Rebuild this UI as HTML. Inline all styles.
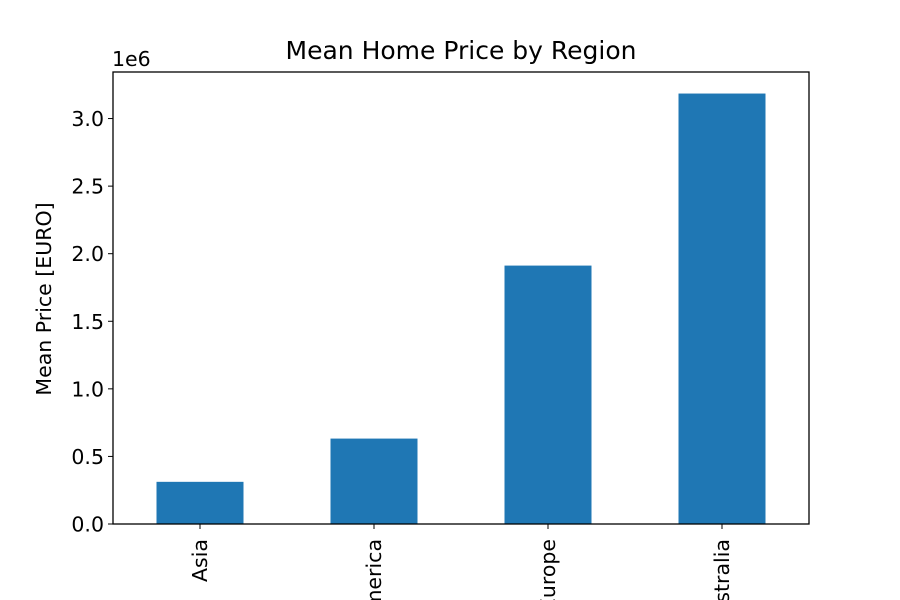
<!DOCTYPE html>
<html><head><meta charset="utf-8"><style>
html,body{margin:0;padding:0;background:#fff;}
svg{display:block;font-family:"DejaVu Sans","Liberation Sans",sans-serif;}
</style></head><body>
<svg id="chart" width="900" height="600" viewBox="0 0 900 600">
<rect width="900" height="600" fill="#fff"/>
<text x="461" y="59" font-size="25" text-anchor="middle" fill="#000">Mean Home Price by Region</text>
<text x="112" y="66" font-size="20.5" fill="#000">1e6</text>
<text transform="translate(51,299) rotate(-90)" font-size="20.5" text-anchor="middle" fill="#000">Mean Price [EURO]</text>
<g id="bars"></g>
<g id="yticks"></g>
<g id="xticks"></g>
<rect x="113" y="72" width="696" height="452" fill="none" stroke="#000" stroke-width="1.3"/>
</svg>
<script>
const categories = ["Asia", "America", "Europe", "Australia"];
const values = [0.312e6, 0.632e6, 1.912e6, 3.185e6];
const yTicks = [0, 0.5e6, 1.0e6, 1.5e6, 2.0e6, 2.5e6, 3.0e6];
const yTickLabels = ["0.0", "0.5", "1.0", "1.5", "2.0", "2.5", "3.0"];

{
const pL = 113, pR = 809, pT = 72, pB = 524;
const yMax = 3.3444e6;
function ys(v){ return pB - v / yMax * (pB - pT); }
const step = (pR - pL) / categories.length;
function xs(i){ return pL + step * (i + 0.5); }
const bw = step * 0.5;
const ns = "http://www.w3.org/2000/svg";
const bars = document.getElementById('bars');
const yt = document.getElementById('yticks');
const xt = document.getElementById('xticks');

categories.forEach((c, i) => {
  const r = document.createElementNS(ns, 'rect');
  r.setAttribute('x', xs(i) - bw / 2);
  r.setAttribute('y', ys(values[i]));
  r.setAttribute('width', bw);
  r.setAttribute('height', pB - ys(values[i]));
  r.setAttribute('fill', '#1f77b4');
  
  
  bars.appendChild(r);

  const t = document.createElementNS(ns, 'line');
  t.setAttribute('x1', xs(i)); t.setAttribute('x2', xs(i));
  t.setAttribute('y1', pB); t.setAttribute('y2', pB + 5);
  t.setAttribute('stroke', '#000');
  
  
  xt.appendChild(t);

  const l = document.createElementNS(ns, 'text');
  l.setAttribute('transform', 'translate(' + (xs(i) + 7) + ',' + (pB + 15) + ') rotate(-90)');
  l.setAttribute('font-size', '20.5');
  l.setAttribute('text-anchor', 'end');
  l.setAttribute('fill', '#000');
  l.textContent = c;
  
  
  xt.appendChild(l);
});

yTicks.forEach((v, i) => {
  const t = document.createElementNS(ns, 'line');
  t.setAttribute('x1', pL - 5); t.setAttribute('x2', pL);
  t.setAttribute('y1', ys(v)); t.setAttribute('y2', ys(v));
  t.setAttribute('stroke', '#000');
  
  
  yt.appendChild(t);

  const l = document.createElementNS(ns, 'text');
  l.setAttribute('x', pL - 9);
  l.setAttribute('y', ys(v) + 7.5);
  l.setAttribute('font-size', '20.5');
  l.setAttribute('text-anchor', 'end');
  l.setAttribute('fill', '#000');
  l.textContent = yTickLabels[i];
  
  
  yt.appendChild(l);
});
}
</script>
</body></html>
